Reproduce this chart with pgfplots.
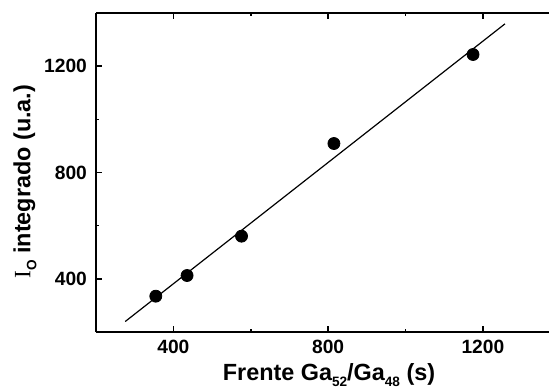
\documentclass[border=0pt]{standalone}
\usepackage{pgfplots}
\pgfplotsset{compat=1.18}
\usepackage{fontspec}
\setmainfont{Liberation Sans}
\newfontfamily\serifI{Liberation Serif}
\newcommand\sub[1]{\raisebox{-3pt}{\fontsize{6.8}{7}\selectfont #1}}
\begin{document}
\begin{tikzpicture}
\begin{axis}[
  scale only axis, width=226.5pt, height=159.5pt,
  xmin=200, xmax=1371, ymin=200, ymax=1400,
  axis x line=box, axis y line*=left,
  tick align=inside,
  xtick={400,800,1200}, ytick={400,800,1200},
  minor x tick num=1, minor y tick num=1,
  major tick length=3pt, minor tick length=1.6pt,
  axis line style={line width=1pt},
  every tick/.style={black, line width=0.8pt},
  /pgf/number format/assume math mode=true,
  /pgf/number format/1000 sep={},
  ticklabel style={font=\bfseries\fontsize{9.6}{10}\selectfont},
  yticklabel style={xshift=-1pt},
  xticklabel style={yshift=-0.5pt},
  xlabel={Frente Ga\sub{52}/Ga\sub{48} (s)},
  ylabel={{\serifI\mdseries I}\sub{O} integrado (u.a.)},
  every axis x label/.style={at={(axis description cs:0.5,0)}, anchor=base, yshift=-24pt, xshift=3.25pt, font=\bfseries\fontsize{11.7}{13}\selectfont},
  every axis y label/.style={at={(axis description cs:0,0.5)}, rotate=90, anchor=center, yshift=35.5pt, xshift=-4.6pt, font=\bfseries\fontsize{11.7}{13}\selectfont},
]
\addplot[black, line width=0.6pt, no marks] coordinates {(275.6,239.5) (1257.2,1359.2)};
\addplot[only marks, mark=*, mark size=3pt, black] coordinates {
  (354.6,334.8) (435.4,412.5) (576.2,560.5) (815,909) (1174.6,1243.9)
};
\end{axis}
\pgfresetboundingbox
\path ([shift={(-48pt,-29pt)}]current axis.south west) rectangle ([shift={(0pt,6.5pt)}]current axis.north east);
\end{tikzpicture}
\end{document}
